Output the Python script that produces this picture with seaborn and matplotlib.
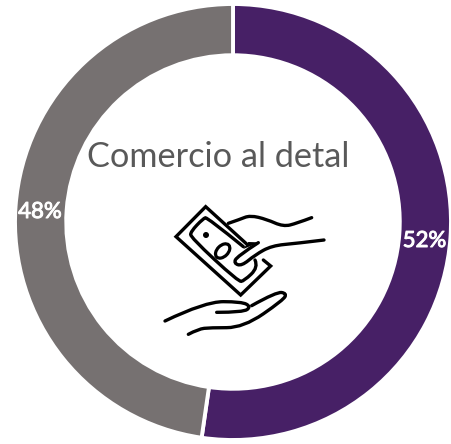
import numpy as np
import matplotlib
matplotlib.use("Agg")
import matplotlib.pyplot as plt
import matplotlib.patheffects as pe
import seaborn as sns
from matplotlib.patches import Ellipse, Circle, PathPatch
from matplotlib.path import Path

categories = ["Segmento A", "Segmento B"]
values = [52.3, 47.7]
value_labels = ["52%", "48%"]
title = "Comercio al detal"
colors = ["#472066", "#767171"]

sns.set_theme(style="white")
plt.rcParams['font.family'] = ['Lato', 'DejaVu Sans']

W, H = 452, 444
fig = plt.figure(figsize=(W / 100, H / 100), dpi=100)
ax = fig.add_axes([0, 0, 1, 1])
cx, cy, R = 233, 222, 218
ax.pie(values, colors=colors, startangle=90, counterclock=False, center=(cx, cy), radius=R,
       wedgeprops=dict(width=R * 0.235, edgecolor="white", linewidth=2.8), frame=False)
ax.set_xlim(0, W)
ax.set_ylim(0, H)
ax.set_aspect("equal")
ax.axis("off")

def Y(py):
    return H - py

bold = [pe.withStroke(linewidth=0.7, foreground="white")]
ax.text(218.5, Y(157), title, color="#595959", fontsize=24.7, ha="center", va="center")
ax.text(424.5, Y(241), value_labels[0], color="white", fontsize=16, ha="center", va="center", path_effects=bold)
ax.text(40, Y(212), value_labels[1], color="white", fontsize=16, ha="center", va="center", path_effects=bold)

# Decorative money-in-hand icon, in the 3x crop space of the icon
def T(pts):
    a = np.array(pts, float)
    return np.column_stack([a[:, 0] / 3 + 150, Y(a[:, 1] / 3 + 180)])

def smooth(pts):
    """Quadratic path through the midpoints, which rounds every bend."""
    p = T(pts)
    verts, codes = [p[0]], [Path.MOVETO]
    for i in range(1, len(p) - 1):
        end = (p[i] + p[i + 1]) / 2 if i < len(p) - 2 else p[i + 1]
        verts += [p[i], end]
        codes += [Path.CURVE3, Path.CURVE3]
    return Path(verts, codes)

sharp = [
    [(340, 240), (362, 258), (272, 345), (78, 170), (167, 80), (290, 192)],
]
round_ = [
    [(280, 200), (172, 112), (160, 115), (122, 155), (122, 172), (265, 305), (282, 303), (325, 262), (315, 240)],
    [(235, 130), (270, 118), (300, 106), (350, 118), (400, 140), (440, 130), (485, 113)],
    [(522, 180), (440, 190), (365, 197), (315, 225), (275, 258), (252, 250), (260, 230), (325, 188)],
    [(45, 423), (165, 365), (275, 365), (303, 380), (280, 397), (200, 397)],
    [(305, 377), (380, 335), (410, 340), (400, 360), (280, 443), (180, 443), (145, 447), (115, 463)],
]
for s in sharp:
    p = T(s)
    ax.plot(p[:, 0], p[:, 1], color="black", lw=2.4, solid_capstyle="round", solid_joinstyle="miter")
for s in round_:
    ax.add_patch(PathPatch(smooth(s), fill=False, ec="black", lw=2.4, capstyle="round"))
w = T([(328, 187), (295, 186), (280, 207)])
ax.fill(w[:, 0], w[:, 1], color="black", lw=0)
o = T([(218, 213)])[0]
ax.add_patch(Ellipse(o, 17, 11, angle=45, fill=False, ec="black", lw=2.3))
d = T([(168, 165)])[0]
ax.add_patch(Circle(d, 3, color="black", lw=0))

fig.savefig("out.png", dpi=100)
